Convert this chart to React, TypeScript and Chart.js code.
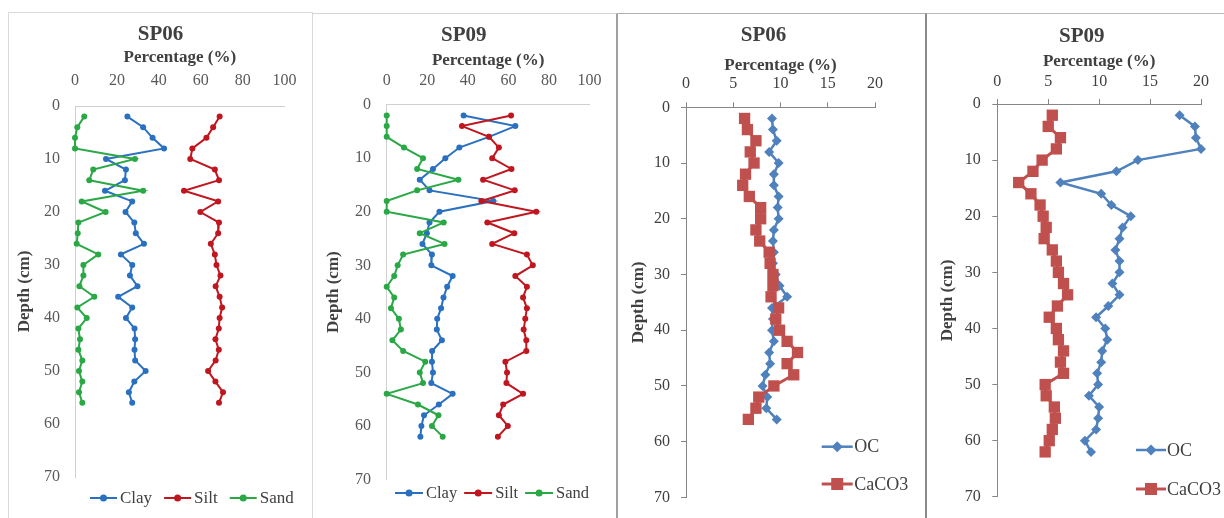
import { useEffect, useRef } from 'react';
import { Chart, registerables } from 'chart.js';

Chart.register(...registerables);

// ---------------- data ----------------
const depthSP06 = [2, 4, 6, 8, 10, 12, 14, 16, 18, 20, 22, 24, 26, 28, 30, 32, 34, 36, 38, 40, 42, 44, 46, 48, 50, 52, 54, 56];
const depthSP09 = [2, 4, 6, 8, 10, 12, 14, 16, 18, 20, 22, 24, 26, 28, 30, 32, 34, 36, 38, 40, 42, 44, 46, 48, 50, 52, 54, 56, 58, 60, 62];

const claySP06 = [25, 32.5, 37, 42.5, 14.8, 24.3, 23.8, 14.3, 27.3, 24.1, 28.3, 29, 32.9, 21.9, 27.3, 26.2, 29.8, 20.6, 27.3, 24.3, 28.4, 28.7, 28.4, 28.7, 33.7, 28.3, 25.7, 27.3];
const siltSP06 = [69, 65.9, 62.7, 56, 55, 66.7, 68.7, 52, 68.3, 59.8, 68.7, 68.3, 64.8, 66.7, 67.5, 69.4, 67.1, 69, 70.2, 69, 68.6, 67, 68.6, 67.1, 63.5, 67, 70.6, 68.7];
const sandSP06 = [4.4, 1.1, 0, 0, 28.6, 8.7, 6.8, 32.5, 3.2, 14.6, 1.6, 1.3, 0.8, 11.1, 4, 4, 2.1, 9.2, 1.1, 5.6, 1.6, 2.4, 1.6, 3.5, 1.9, 3.5, 1.9, 3.5];

const claySP09 = [37.9, 63.4, 50.4, 35.8, 28.9, 22.8, 16.3, 21.1, 52.5, 26, 21.1, 19.8, 17.6, 22.3, 22, 32.5, 29.8, 28, 26.8, 24.9, 24.7, 27.2, 22.4, 22.3, 22.8, 22, 32.5, 25.7, 18.4, 17.1, 16.6];
const siltSP09 = [61.3, 37.1, 50.4, 55.3, 52, 61.5, 47.5, 63.1, 46.7, 73.7, 49.6, 62.9, 52, 69.1, 72, 63.4, 69.1, 67.2, 69.1, 68.3, 67.5, 68.8, 68.8, 58.5, 59.3, 59, 67.2, 57.4, 55.3, 59.7, 54.8];
const sandSP09 = [0, 0, 0, 8.5, 17.9, 15, 35.3, 15, 0, 0, 28.1, 16.3, 28.5, 8.1, 5.4, 3.7, 0, 3.7, 2.1, 6, 7, 2.8, 8.1, 19, 16.3, 17.9, 0, 15.4, 25.5, 22.3, 27.6];

const ocSP06 = [9.1, 9.2, 9.6, 8.8, 9.8, 9.3, 9.3, 9.8, 9.7, 9.8, 9.3, 9.2, 9.3, 9.2, 9.5, 9.9, 10.7, 9.1, 9.2, 9.1, 9.3, 8.8, 8.9, 8.4, 8.1, 8.6, 8.5, 9.6];
const caco3SP06 = [6.2, 6.5, 7.4, 6.8, 7.2, 6.3, 6, 6.7, 7.9, 7.9, 7.4, 7.8, 8.8, 8.9, 9.2, 9.2, 9, 9.8, 9.5, 9.9, 10.7, 11.8, 10.7, 11.4, 9.3, 7.7, 7.4, 6.6];

const ocSP09 = [17.9, 19.4, 19.5, 20, 13.8, 11.7, 6.2, 10.2, 11.2, 13.1, 12.3, 12, 11.6, 12, 12, 11.3, 12, 10.9, 9.7, 10.6, 10.8, 10.3, 10.2, 9.8, 9.9, 9, 10, 9.9, 9.7, 8.6, 9.2];
const caco3SP09 = [5.4, 5, 6.2, 5.8, 4.4, 3.5, 2.1, 3.3, 4.2, 4.5, 4.8, 4.6, 5.4, 5.8, 6, 6.5, 6.9, 5.9, 5.1, 5.8, 6, 6.5, 6.2, 6.5, 4.7, 4.8, 5.6, 5.7, 5.4, 5.1, 4.7];

const textureLabels = ['Clay', 'Silt', 'Sand'];
const chemLabels = ['OC', 'CaCO3'];
const panelTitles = ['SP06', 'SP09', 'SP06', 'SP09'];
const xAxisTitle = 'Percentage (%)';
const yAxisTitle = 'Depth (cm)';

// ---------------- styling ----------------
const SERIF = "'Liberation Serif', 'Times New Roman', serif";
const C_CLAY = '#2a70c0';
const C_SILT = '#c0161f';
const C_SAND = '#2aa845';
const C_OC = '#4f81bd';
const C_CACO3 = '#c0504d';

function drawMarker(ctx: CanvasRenderingContext2D, style: string, x: number, y: number, r: number, color: string) {
  ctx.save();
  ctx.fillStyle = color;
  ctx.beginPath();
  if (style === 'rectRot') {
    ctx.moveTo(x, y - r);
    ctx.lineTo(x + r, y);
    ctx.lineTo(x, y + r);
    ctx.lineTo(x - r, y);
    ctx.closePath();
  } else if (style === 'rect') {
    const h = r * Math.SQRT1_2;
    ctx.rect(x - h, y - h, 2 * h, 2 * h);
  } else {
    ctx.arc(x, y, r, 0, Math.PI * 2);
  }
  ctx.fill();
  ctx.restore();
}

const lineLegend = {
  id: 'lineLegend',
  afterDraw(chart: any, _args: any, opts: any) {
    if (!opts || !opts.show) return;
    const ctx: CanvasRenderingContext2D = chart.ctx;
    ctx.save();
    ctx.font = `${opts.fontSize}px ${SERIF}`;
    ctx.textBaseline = 'middle';
    ctx.textAlign = 'left';
    let x = opts.x;
    let y = opts.y;
    chart.data.datasets.forEach((ds: any) => {
      ctx.strokeStyle = ds.borderColor;
      ctx.lineWidth = ds.borderWidth;
      ctx.beginPath();
      ctx.moveTo(x, y);
      ctx.lineTo(x + opts.lineLen, y);
      ctx.stroke();
      drawMarker(ctx, ds.pointStyle, x + opts.lineLen / 2, y, ds.pointRadius + 0.5, ds.pointBackgroundColor);
      ctx.fillStyle = '#404040';
      ctx.fillText(ds.label, x + opts.lineLen + opts.textGap, y + 1);
      const w = ctx.measureText(ds.label).width;
      if (opts.vertical) y += opts.rowGap;
      else x += opts.lineLen + opts.textGap + w + opts.itemGap;
    });
    ctx.restore();
  },
};

type Series = { label: string; values: number[]; depth: number[]; color: string; style: string; radius: number; width: number; order: number };

type PanelSpec = {
  title: string;
  xMax: number;
  xStep: number;
  series: Series[];
  box: { left: number; top: number; width: number; height: number; css: any };
  canvas: { w: number; h: number };
  pl: number; pr: number; pb: number;
  titlePad: number; xTitlePad: number; xHeight: number; xTickPad: number;
  yWidth: number; yTickPad: number; yTitlePad: number;
  tickLen: number; axisColor: string; tickColor: string;
  legend: any;
};

function texture(depth: number[], clay: number[], silt: number[], sand: number[]): Series[] {
  const vals = [clay, silt, sand];
  const cols = [C_CLAY, C_SILT, C_SAND];
  return textureLabels.map((label, i) => ({ label, values: vals[i], depth, color: cols[i], style: 'circle', radius: 3, width: 2, order: 3 - i }));
}

function chem(depth: number[], oc: number[], caco3: number[]): Series[] {
  return [
    { label: chemLabels[0], values: oc, depth, color: C_OC, style: 'rectRot', radius: 5, width: 2.5, order: 1 },
    { label: chemLabels[1], values: caco3, depth, color: C_CACO3, style: 'rect', radius: 8, width: 3, order: 0 },
  ];
}

const panels: PanelSpec[] = [
  {
    title: panelTitles[0], xMax: 100, xStep: 20,
    series: texture(depthSP06, claySP06, siltSP06, sandSP06),
    box: { left: 8, top: 12, width: 305, height: 506, css: { borderTop: '1px solid #d9d9d9', borderLeft: '1px solid #d9d9d9', borderRight: '1px solid #d9d9d9' } },
    canvas: { w: 303, h: 505 },
    pl: 27, pr: 27, pb: 41,
    titlePad: 9.4, xTitlePad: 0.2, xHeight: 58.4, xTickPad: 15.4,
    yWidth: 39, yTickPad: 15, yTitlePad: -21.2,
    tickLen: 0, axisColor: '#d0d0d0', tickColor: '#595959',
    legend: { show: true, x: 81, y: 485, lineLen: 27, textGap: 3, itemGap: 12, fontSize: 17, vertical: false },
  },
  {
    title: panelTitles[1], xMax: 100, xStep: 20,
    series: texture(depthSP09, claySP09, siltSP09, sandSP09),
    box: { left: 312, top: 13, width: 306, height: 505, css: { borderTop: '1px solid #d4d4d4', borderLeft: '1px solid #d9d9d9', borderRight: '2px solid #a0a0a0' } },
    canvas: { w: 303, h: 504 },
    pl: 22.9, pr: 24.3, pb: 38.5,
    titlePad: 9.4, xTitlePad: 1.5, xHeight: 56.1, xTickPad: 14.4,
    yWidth: 50.8, yTickPad: 15.7, yTitlePad: -12.4,
    tickLen: 0, axisColor: '#d0d0d0', tickColor: '#595959',
    legend: { show: true, x: 82, y: 479, lineLen: 28, textGap: 3, itemGap: 7, fontSize: 16.5, vertical: false },
  },
  {
    title: panelTitles[2], xMax: 20, xStep: 5,
    series: chem(depthSP06, ocSP06, caco3SP06),
    box: { left: 618, top: 13, width: 309, height: 505, css: { borderTop: '1px solid #b0b0b0', borderRight: '2px solid #8a8a8a' } },
    canvas: { w: 307, h: 504 },
    pl: 34, pr: 50, pb: 13,
    titlePad: 9.4, xTitlePad: 7, xHeight: 58.7, xTickPad: 9.2,
    yWidth: 34, yTickPad: 11, yTitlePad: -23.2,
    tickLen: 5, axisColor: '#868686', tickColor: '#404040',
    legend: { show: true, x: 203.7, y: 432.7, lineLen: 31, textGap: 1.5, rowGap: 37.3, fontSize: 18, vertical: true },
  },
  {
    title: panelTitles[3], xMax: 20, xStep: 5,
    series: chem(depthSP09, ocSP09, caco3SP09),
    box: { left: 927, top: 13, width: 297, height: 505, css: { borderTop: '1px solid #b8b8b8' } },
    canvas: { w: 297, h: 504 },
    pl: 35.4, pr: 23, pb: 13,
    titlePad: 9.7, xTitlePad: 2.2, xHeight: 55.1, xTickPad: 7.7,
    yWidth: 34.9, yTickPad: 11.6, yTitlePad: -25.1,
    tickLen: 5, axisColor: '#868686', tickColor: '#404040',
    legend: { show: true, x: 209, y: 436, lineLen: 30, textGap: 1, rowGap: 39, fontSize: 18, vertical: true },
  },
];

function buildConfig(p: PanelSpec): any {
  const gridOpts = {
    display: true,
    drawOnChartArea: false,
    drawTicks: p.tickLen > 0,
    tickLength: p.tickLen,
    color: p.axisColor,
    lineWidth: 1,
  };
  const border = { display: true, color: p.axisColor, width: 1 };
  const tickFont = { family: SERIF, size: 16 };
  const axisTitleFont = { family: SERIF, size: 17, weight: 'bold' as const };
  return {
    type: 'scatter',
    data: {
      datasets: p.series.map((s) => ({
        label: s.label,
        data: s.values.map((v, i) => ({ x: v, y: s.depth[i] })),
        showLine: true,
        borderColor: s.color,
        backgroundColor: s.color,
        borderWidth: s.width,
        pointStyle: s.style,
        pointRadius: s.radius,
        pointBackgroundColor: s.color,
        pointBorderColor: s.color,
        pointBorderWidth: 0,
        pointHoverRadius: s.radius,
        tension: 0,
        clip: false,
        order: s.order,
      })),
    },
    options: {
      responsive: false,
      maintainAspectRatio: false,
      animation: false,
      events: [],
      layout: { padding: { left: p.pl, right: p.pr, top: 0, bottom: p.pb } },
      plugins: {
        legend: { display: false },
        tooltip: { enabled: false },
        title: {
          display: true,
          text: p.title,
          color: '#404040',
          font: { family: SERIF, size: 21, weight: 'bold' },
          padding: { top: p.titlePad, bottom: 0 },
        },
        lineLegend: p.legend,
      },
      scales: {
        x: {
          type: 'linear',
          position: 'top',
          min: 0,
          max: p.xMax,
          ticks: { stepSize: p.xStep, padding: p.xTickPad, color: p.tickColor, font: tickFont, maxRotation: 0, autoSkip: false },
          grid: gridOpts,
          border,
          title: { display: true, text: xAxisTitle, color: '#404040', font: axisTitleFont, padding: { top: p.xTitlePad, bottom: 0 } },
          afterFit: (s: any) => { s.height = p.xHeight; },
        },
        y: {
          type: 'linear',
          position: 'left',
          min: 0,
          max: 70,
          reverse: true,
          ticks: { stepSize: 10, padding: p.yTickPad, color: p.tickColor, font: tickFont, autoSkip: false },
          grid: gridOpts,
          border,
          title: { display: true, text: yAxisTitle, color: '#404040', font: axisTitleFont, padding: { top: p.yTitlePad, bottom: 0 } },
          afterFit: (s: any) => { s.width = p.yWidth; },
        },
      },
    },
    plugins: [lineLegend],
  };
}

function Panel({ spec }: { spec: PanelSpec }) {
  const ref = useRef<HTMLCanvasElement | null>(null);
  useEffect(() => {
    if (!ref.current) return;
    const chart = new Chart(ref.current, buildConfig(spec));
    return () => chart.destroy();
  }, [spec]);
  return (
    <div
      style={{
        position: 'absolute',
        left: spec.box.left,
        top: spec.box.top,
        width: spec.box.width,
        height: spec.box.height,
        boxSizing: 'border-box',
        ...spec.box.css,
      }}
    >
      <canvas
        ref={ref}
        width={spec.canvas.w}
        height={spec.canvas.h}
        style={{ position: 'absolute', left: 0, top: 0, width: spec.canvas.w, height: spec.canvas.h, display: 'block' }}
      />
    </div>
  );
}

export default function App() {
  return (
    <div style={{ position: 'absolute', left: 0, top: 0, width: 1224, height: 518, overflow: 'hidden', background: '#ffffff' }}>
      {panels.map((p, i) => (
        <Panel key={i} spec={p} />
      ))}
    </div>
  );
}
